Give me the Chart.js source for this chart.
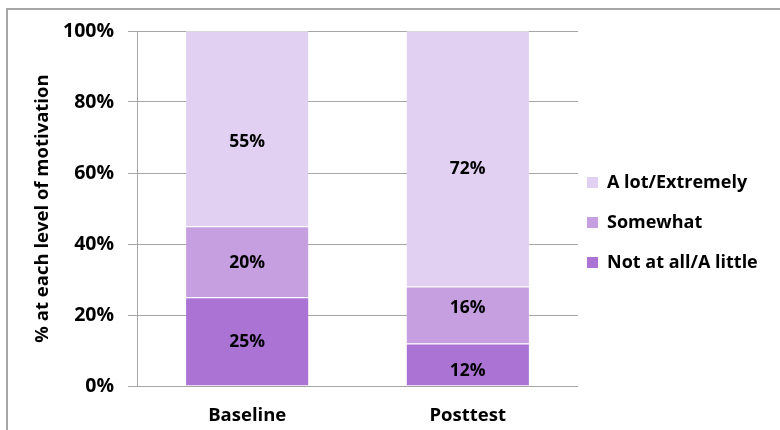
<!DOCTYPE html>
<html>
<head>
<meta charset="utf-8">
<script src="https://cdn.jsdelivr.net/npm/chart.js@4/dist/chart.umd.min.js"></script>
<style>
  html, body { margin: 0; padding: 0; background: #fff; }
  #wrap { width: 780px; height: 430px; }
</style>
</head>
<body>
<div id="wrap"><canvas id="c" width="780" height="430"></canvas></div>
<script>
// Motivation levels at baseline and posttest (percent of respondents)
const categories = ['Baseline', 'Posttest'];
const notAtAll = [25, 12];
const somewhat = [20, 16];
const aLot = [55, 72];
const seriesNames = ['Not at all/A little', 'Somewhat', 'A lot/Extremely'];
const seriesColors = ['#aa73d4', '#c59fe0', '#e2d0f2'];
const yTicks = [0, 20, 40, 60, 80, 100];

const FONT = '"Open Sans", sans-serif';
const GRID = '#a6a6a6';

// Values printed inside each stacked segment; `nudge` shifts a label
// vertically (px) from the segment centre, per dataset and category.
const segmentLabels = {
  id: 'segmentLabels',
  afterDatasetsDraw(chart, args, opts) {
    const ctx = chart.ctx;
    const nudge = opts.nudge || [];
    ctx.save();
    ctx.font = 'bold 17.5px ' + FONT;
    ctx.fillStyle = '#000';
    ctx.textAlign = 'center';
    ctx.textBaseline = 'middle';
    chart.data.datasets.forEach((ds, i) => {
      const meta = chart.getDatasetMeta(i);
      meta.data.forEach((bar, j) => {
        const v = ds.data[j];
        const dy = (nudge[i] && nudge[i][j]) || 0;
        ctx.fillText(v + '%', bar.x, (bar.y + bar.base) / 2 + 1 + dy);
      });
    });
    ctx.restore();
  }
};

// Legend on the right, top entry is the top of the stack
const sideLegend = {
  id: 'sideLegend',
  afterDraw(chart) {
    const ctx = chart.ctx;
    const x0 = chart.chartArea.right + 9;
    const rowGap = 40;
    const yTop = 182;
    ctx.save();
    ctx.font = 'bold 18px ' + FONT;
    ctx.textBaseline = 'middle';
    ctx.textAlign = 'left';
    const n = chart.data.datasets.length;
    for (let k = 0; k < n; k++) {
      const ds = chart.data.datasets[n - 1 - k];
      const y = yTop + k * rowGap;
      ctx.fillStyle = ds.backgroundColor;
      ctx.fillRect(x0, y - 5, 11, 11);
      ctx.fillStyle = '#000';
      ctx.fillText(ds.label, x0 + 20, y + 1);
    }
    ctx.restore();
  }
};

// Outer frame (top and left edges visible)
const frame = {
  id: 'frame',
  beforeDraw(chart) {
    const ctx = chart.ctx;
    ctx.save();
    ctx.fillStyle = '#fff';
    ctx.fillRect(0, 0, chart.width, chart.height);
    ctx.fillStyle = GRID;
    ctx.fillRect(6, 8, chart.width - 6, 2);
    ctx.fillRect(6, 8, 2, chart.height - 8);
    ctx.restore();
  }
};

const datasets = [notAtAll, somewhat, aLot].map((vals, i) => ({
  label: seriesNames[i],
  data: vals,
  backgroundColor: seriesColors[i],
  borderColor: 'rgba(255,255,255,0.55)',
  borderWidth: { top: 1, bottom: 0, left: 0, right: 0 },
  borderSkipped: false,
  categoryPercentage: 1.0,
  barPercentage: 0.555
}));

new Chart(document.getElementById('c'), {
  type: 'bar',
  data: { labels: categories, datasets },
  options: {
    responsive: false,
    animation: false,
    devicePixelRatio: 1,
    layout: { padding: { left: 20, right: 202, top: 31, bottom: 0 } },
    plugins: {
      legend: { display: false },
      tooltip: { enabled: false },
      segmentLabels: { nudge: [[0, 6], [0, -8], [12, 9]] }
    },
    scales: {
      x: {
        stacked: true,
        grid: { display: false },
        border: { display: false },
        ticks: { color: '#000', font: { family: FONT, size: 18.5, weight: 'bold' }, padding: 11 },
        afterFit(s) { s.height = 44; }
      },
      y: {
        stacked: true,
        min: 0,
        max: 100,
        afterBuildTicks(s) { s.ticks = yTicks.map(v => ({ value: v })); },
        ticks: {
          color: '#000',
          font: { family: FONT, size: 19.5, weight: 'bold' },
          padding: 14,
          callback: v => v + '%'
        },
        grid: { color: GRID, lineWidth: 1, tickLength: 9, drawTicks: true },
        border: { display: true, color: GRID, width: 1 },
        title: {
          display: true,
          text: '% at each level of motivation',
          color: '#000',
          font: { family: FONT, size: 18.5, weight: 'bold' },
          padding: { top: 12, bottom: 0 }
        },
        afterFit(s) { s.width = 117; }
      }
    }
  },
  plugins: [frame, segmentLabels, sideLegend]
});
</script>
</body>
</html>
